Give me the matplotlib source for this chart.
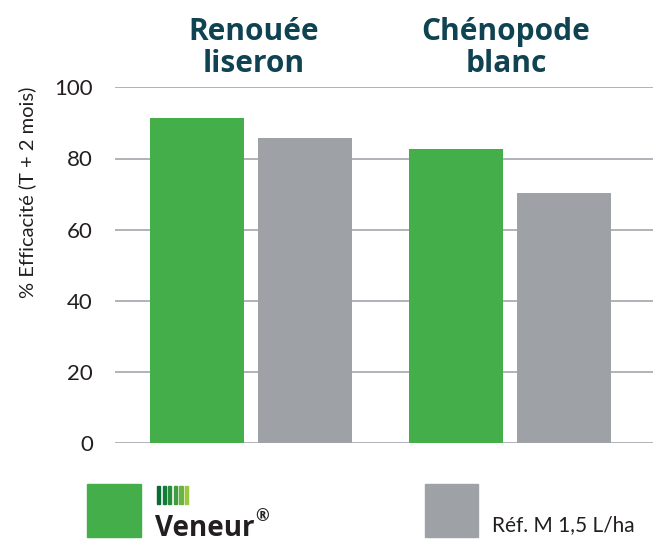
import numpy as np
import matplotlib.pyplot as plt
from matplotlib.patches import Rectangle

# données
categories = ["Renouée\nliseron", "Chénopode\nblanc"]
series = ["Veneur", "Réf. M 1,5 L/ha"]
veneur = [91.5, 82.8]
reference = [85.8, 70.3]
yticks = [0, 20, 40, 60, 80, 100]

vert = "#43ae4a"
gris = "#9ea1a5"
titre_col = "#0f4352"
logo_cols = ["#0a6b35", "#147b3a", "#2a8c3c", "#3f9e42", "#6db33f", "#9cc83b"]

W, H = 661, 551
fig = plt.figure(figsize=(W / 100, H / 100), dpi=100)

# axes placés en pixels
x0, x1, y0, y1 = 115, 653, 443.3, 87.3
ax = fig.add_axes([x0 / W, 1 - y0 / H, (x1 - x0) / W, (y0 - y1) / H])

pas = 259.0
larg = 94 / pas
dec = 54 / pas
x = np.arange(len(categories))
ax.bar(x - dec, veneur, width=larg, color=vert, zorder=3)
ax.bar(x + dec, reference, width=larg, color=gris, zorder=3)

ax.set_xlim(-(251 - x0) / pas, (x1 - 251) / pas)
ax.set_ylim(0, 100)
ax.set_yticks(yticks)
ax.set_xticks([])
ax.yaxis.grid(True, color="#a3a6ab", linewidth=1.2, zorder=0)
for s in ax.spines.values():
    s.set_visible(False)
ax.tick_params(axis="y", length=0, pad=16, labelsize=16, labelcolor="#231f20")
for lab in ax.get_yticklabels():
    lab.set_family("Lato")

fig.text(27 / W, 1 - 192 / H, "% Efficacité (T + 2 mois)", rotation=90,
         ha="center", va="center", fontsize=14.5, family="Lato", color="#231f20")

# titres des groupes
for i, cat in enumerate(categories):
    xc = [254, 506][i]
    fig.text(xc / W, 1 - 48 / H, cat, ha="center", va="center", fontsize=21.5,
             family="Open Sans", fontweight="bold", color=titre_col,
             linespacing=1.1)

# légende
fig.patches.append(Rectangle((87 / W, 1 - 537 / H), 54 / W, 53 / H,
                             transform=fig.transFigure, color=vert))
fig.patches.append(Rectangle((425 / W, 1 - 537 / H), 53 / W, 53 / H,
                             transform=fig.transFigure, color=gris))
for k, c in enumerate(logo_cols):
    fig.patches.append(Rectangle(((157 + 5.6 * k) / W, 1 - 504 / H), 3.3 / W, 18 / H,
                                 transform=fig.transFigure, color=c))
t = fig.text(155 / W, 1 - 536 / H, series[0], ha="left", va="baseline", fontsize=20,
             family="Open Sans", fontweight="bold", color="#231f20")
fig.canvas.draw()
bb = t.get_window_extent()
fig.text(bb.x1 / W + 1 / W, 1 - 521 / H, "®", ha="left", va="baseline", fontsize=12,
         family="Open Sans", fontweight="bold", color="#231f20")
fig.text(492 / W, 1 - 531 / H, series[1], ha="left", va="baseline", fontsize=15,
         family="Lato", color="#231f20")

fig.savefig("out.png", dpi=100)
